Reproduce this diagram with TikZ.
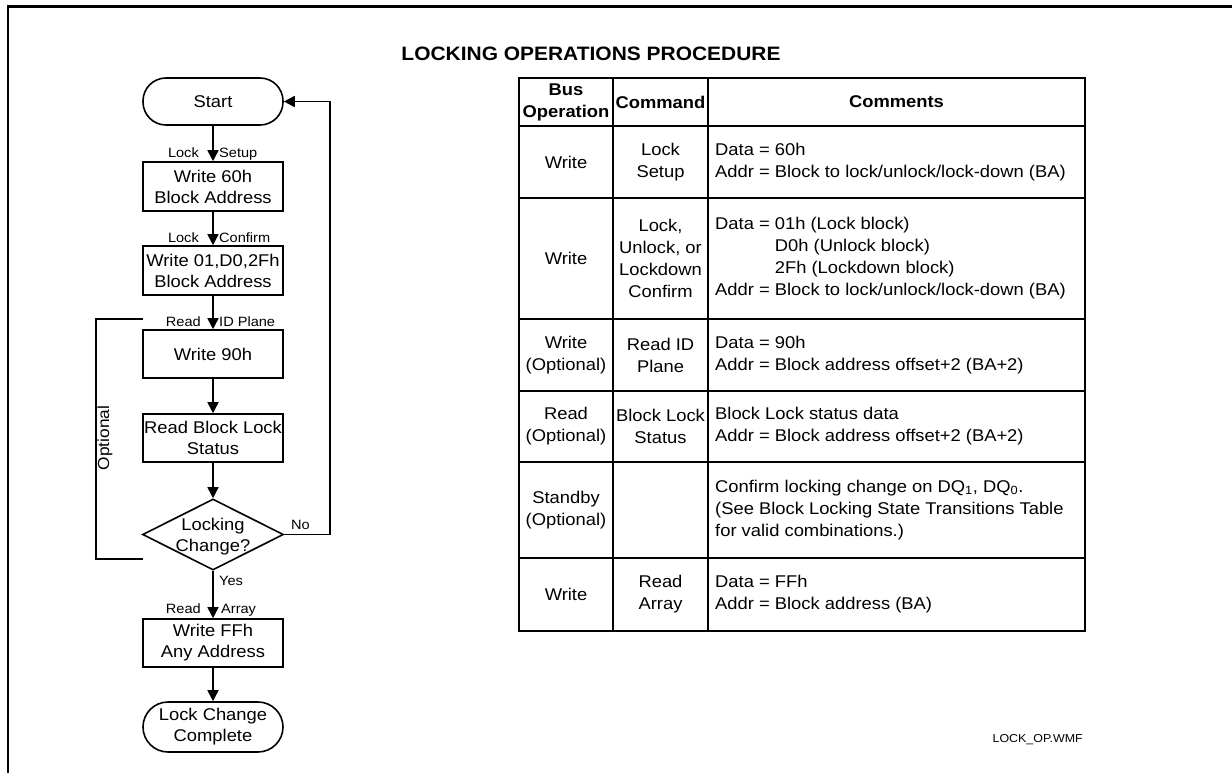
\documentclass[tikz,border=0pt]{standalone}
\usepackage{fontspec}
\setmainfont[FakeStretch=1.08]{Liberation Sans}
\usetikzlibrary{arrows.meta,shapes.geometric}
\newcommand\fmain{\fontsize{17}{21}\selectfont}
\newcommand\ftab{\fontsize{17}{22}\selectfont}
\newcommand\flab{\fontsize{13.5}{16}\selectfont}
\begin{document}
\begin{tikzpicture}[x=1pt,y=-1pt,
 procbox/.style={draw,line width=1.6pt,minimum width=140pt,minimum height=49pt,align=center,inner sep=0pt,font=\fmain},
 termbox/.style={procbox,rounded corners=23pt},
 decbox/.style={draw,diamond,line width=1.6pt,minimum width=141pt,minimum height=71pt,inner sep=0pt},
 txt/.style={align=center,font=\fmain,inner sep=0pt},
 lab/.style={font=\flab,inner sep=0pt},
 arr/.style={line width=1.6pt,-{Triangle[length=11pt,width=11pt]}},
 plain/.style={line width=1.6pt},
 cell/.style={align=center,font=\ftab,inner sep=0pt},
 cellL/.style={align=left,font=\ftab,inner sep=0pt,anchor=west},
 gridline/.style={line width=2pt}]
\useasboundingbox (0,0) rectangle (1232,773);
% frame
\draw[line width=2.6pt] (8,773) -- (8,6.7) -- (1232,6.7);

% title
\node[font=\bfseries\fontsize{19.4}{23}\selectfont,inner sep=0pt,anchor=base] (title) at (591,61) {LOCKING OPERATIONS PROCEDURE};

% ---------- flowchart ----------
\node[termbox,minimum height=47pt] (start) at (213,101.5) {Start};
\node[procbox] (b1) at (213,186.5) {Write 60h\\Block Address};
\node[procbox] (b2) at (213,270.5) {Write 01,D0,2Fh\\Block Address};
\node[procbox,minimum height=48pt] (b3) at (213,354) {Write 90h};
\node[procbox,minimum height=48pt] (b4) at (213,438) {Read Block Lock\\Status};
\node[decbox] (dec) at (213,534.5) {};
\node[txt] (dectxt) at (213,537) {Locking\\Change?};
\node[procbox,minimum height=48pt] (b5) at (213,643) {Write FFh\\Any Address};
\node[termbox,minimum height=50pt,rounded corners=25pt] (end) at (213,727) {Lock Change\\Complete};

\draw[arr] (start.south) -- (b1.north);
\draw[arr] (b1.south) -- (b2.north);
\draw[arr] (b2.south) -- (b3.north);
\draw[arr] (b3.south) -- (b4.north);
\draw[arr] (b4.south) -- (dec.north);
\draw[arr] (dec.south) -- (b5.north);
\draw[arr] (b5.south) -- (end.north);

\coordinate (noX) at (330,534.5);
\draw[arr] (dec.east) -- (noX) |- (start.east);

\coordinate (o1) at (143,319);
\coordinate (o2) at (96,319);
\coordinate (o3) at (96,559);
\coordinate (o4) at (143,559);
\draw[plain] (o1) -- (o2) -- (o3) -- (o4);
\node[font=\fontsize{16}{18}\selectfont,inner sep=0pt,rotate=90] (opt) at (105,438) {Optional};

% labels
\node[lab,anchor=base east] (l1a) at (199,158) {Lock};
\node[lab,anchor=base west] (l1b) at (219,158) {Setup};
\node[lab,anchor=base east] (l2a) at (199,242) {Lock};
\node[lab,anchor=base west] (l2b) at (219,242) {Confirm};
\node[lab,anchor=base east] (l3a) at (201,326) {Read};
\node[lab,anchor=base west] (l3b) at (219,326) {ID Plane};
\node[lab,anchor=base west] (yes) at (219,585) {Yes};
\node[lab,anchor=base west] (no) at (291,529) {No};
\node[lab,anchor=base east] (l5a) at (201,613) {Read};
\node[lab,anchor=base west] (l5b) at (221,613) {Array};

% ---------- table ----------
\draw[gridline] (519,78) rectangle (1085,631);
\foreach \yy in {126,198,319,391,462,558} \draw[gridline] (519,\yy) -- (1085,\yy);
\foreach \xx in {613,708} \draw[gridline] (\xx,78) -- (\xx,631);

\node[cell,font=\ftab\bfseries] (h1) at (566,102) {Bus\\Operation};
\node[cell,font=\ftab\bfseries] (h2) at (660.5,102) {Command};
\node[cell,font=\ftab\bfseries] (h3) at (896.5,102) {Comments};

\node[cell] (r1a) at (566,162) {Write};
\node[cell] (r1b) at (660.5,162) {Lock\\Setup};
\node[cellL] (r1c) at (715,162) {Data = 60h\\Addr = Block to lock/unlock/lock-down (BA)};

\node[cell] (r2a) at (566,258.5) {Write};
\node[cell] (r2b) at (660.5,258.5) {Lock,\\Unlock, or\\Lockdown\\Confirm};
\node[cellL] (r2c) at (715,258.5) {Data = 01h (Lock block)\\\phantom{Data = }D0h (Unlock block)\\\phantom{Data = }2Fh (Lockdown block)\\Addr = Block to lock/unlock/lock-down (BA)};

\node[cell] (r3a) at (566,355) {Write\\(Optional)};
\node[cell] (r3b) at (660.5,355) {Read ID\\Plane};
\node[cellL] (r3c) at (715,355) {Data = 90h\\Addr = Block address offset+2 (BA+2)};

\node[cell] (r4a) at (566,426.5) {Read\\(Optional)};
\node[cell] (r4b) at (660.5,426.5) {Block Lock\\Status};
\node[cellL] (r4c) at (715,426.5) {Block Lock status data\\Addr = Block address offset+2 (BA+2)};

\node[cell] (r5a) at (566,510) {Standby\\(Optional)};
\node[cellL] (r5c) at (715,510) {Confirm locking change on DQ\textsubscript{1}, DQ\textsubscript{0}.\\(See Block Locking State Transitions Table\\for valid combinations.)};

\node[cell] (r6a) at (566,594.5) {Write};
\node[cell] (r6b) at (660.5,594.5) {Read\\Array};
\node[cellL] (r6c) at (715,594.5) {Data = FFh\\Addr = Block address (BA)};

\node[font=\fontsize{11.5}{13}\selectfont,inner sep=0pt,anchor=east] (fname) at (1083,740) {LOCK\_OP.WMF};
\end{tikzpicture}
\end{document}
